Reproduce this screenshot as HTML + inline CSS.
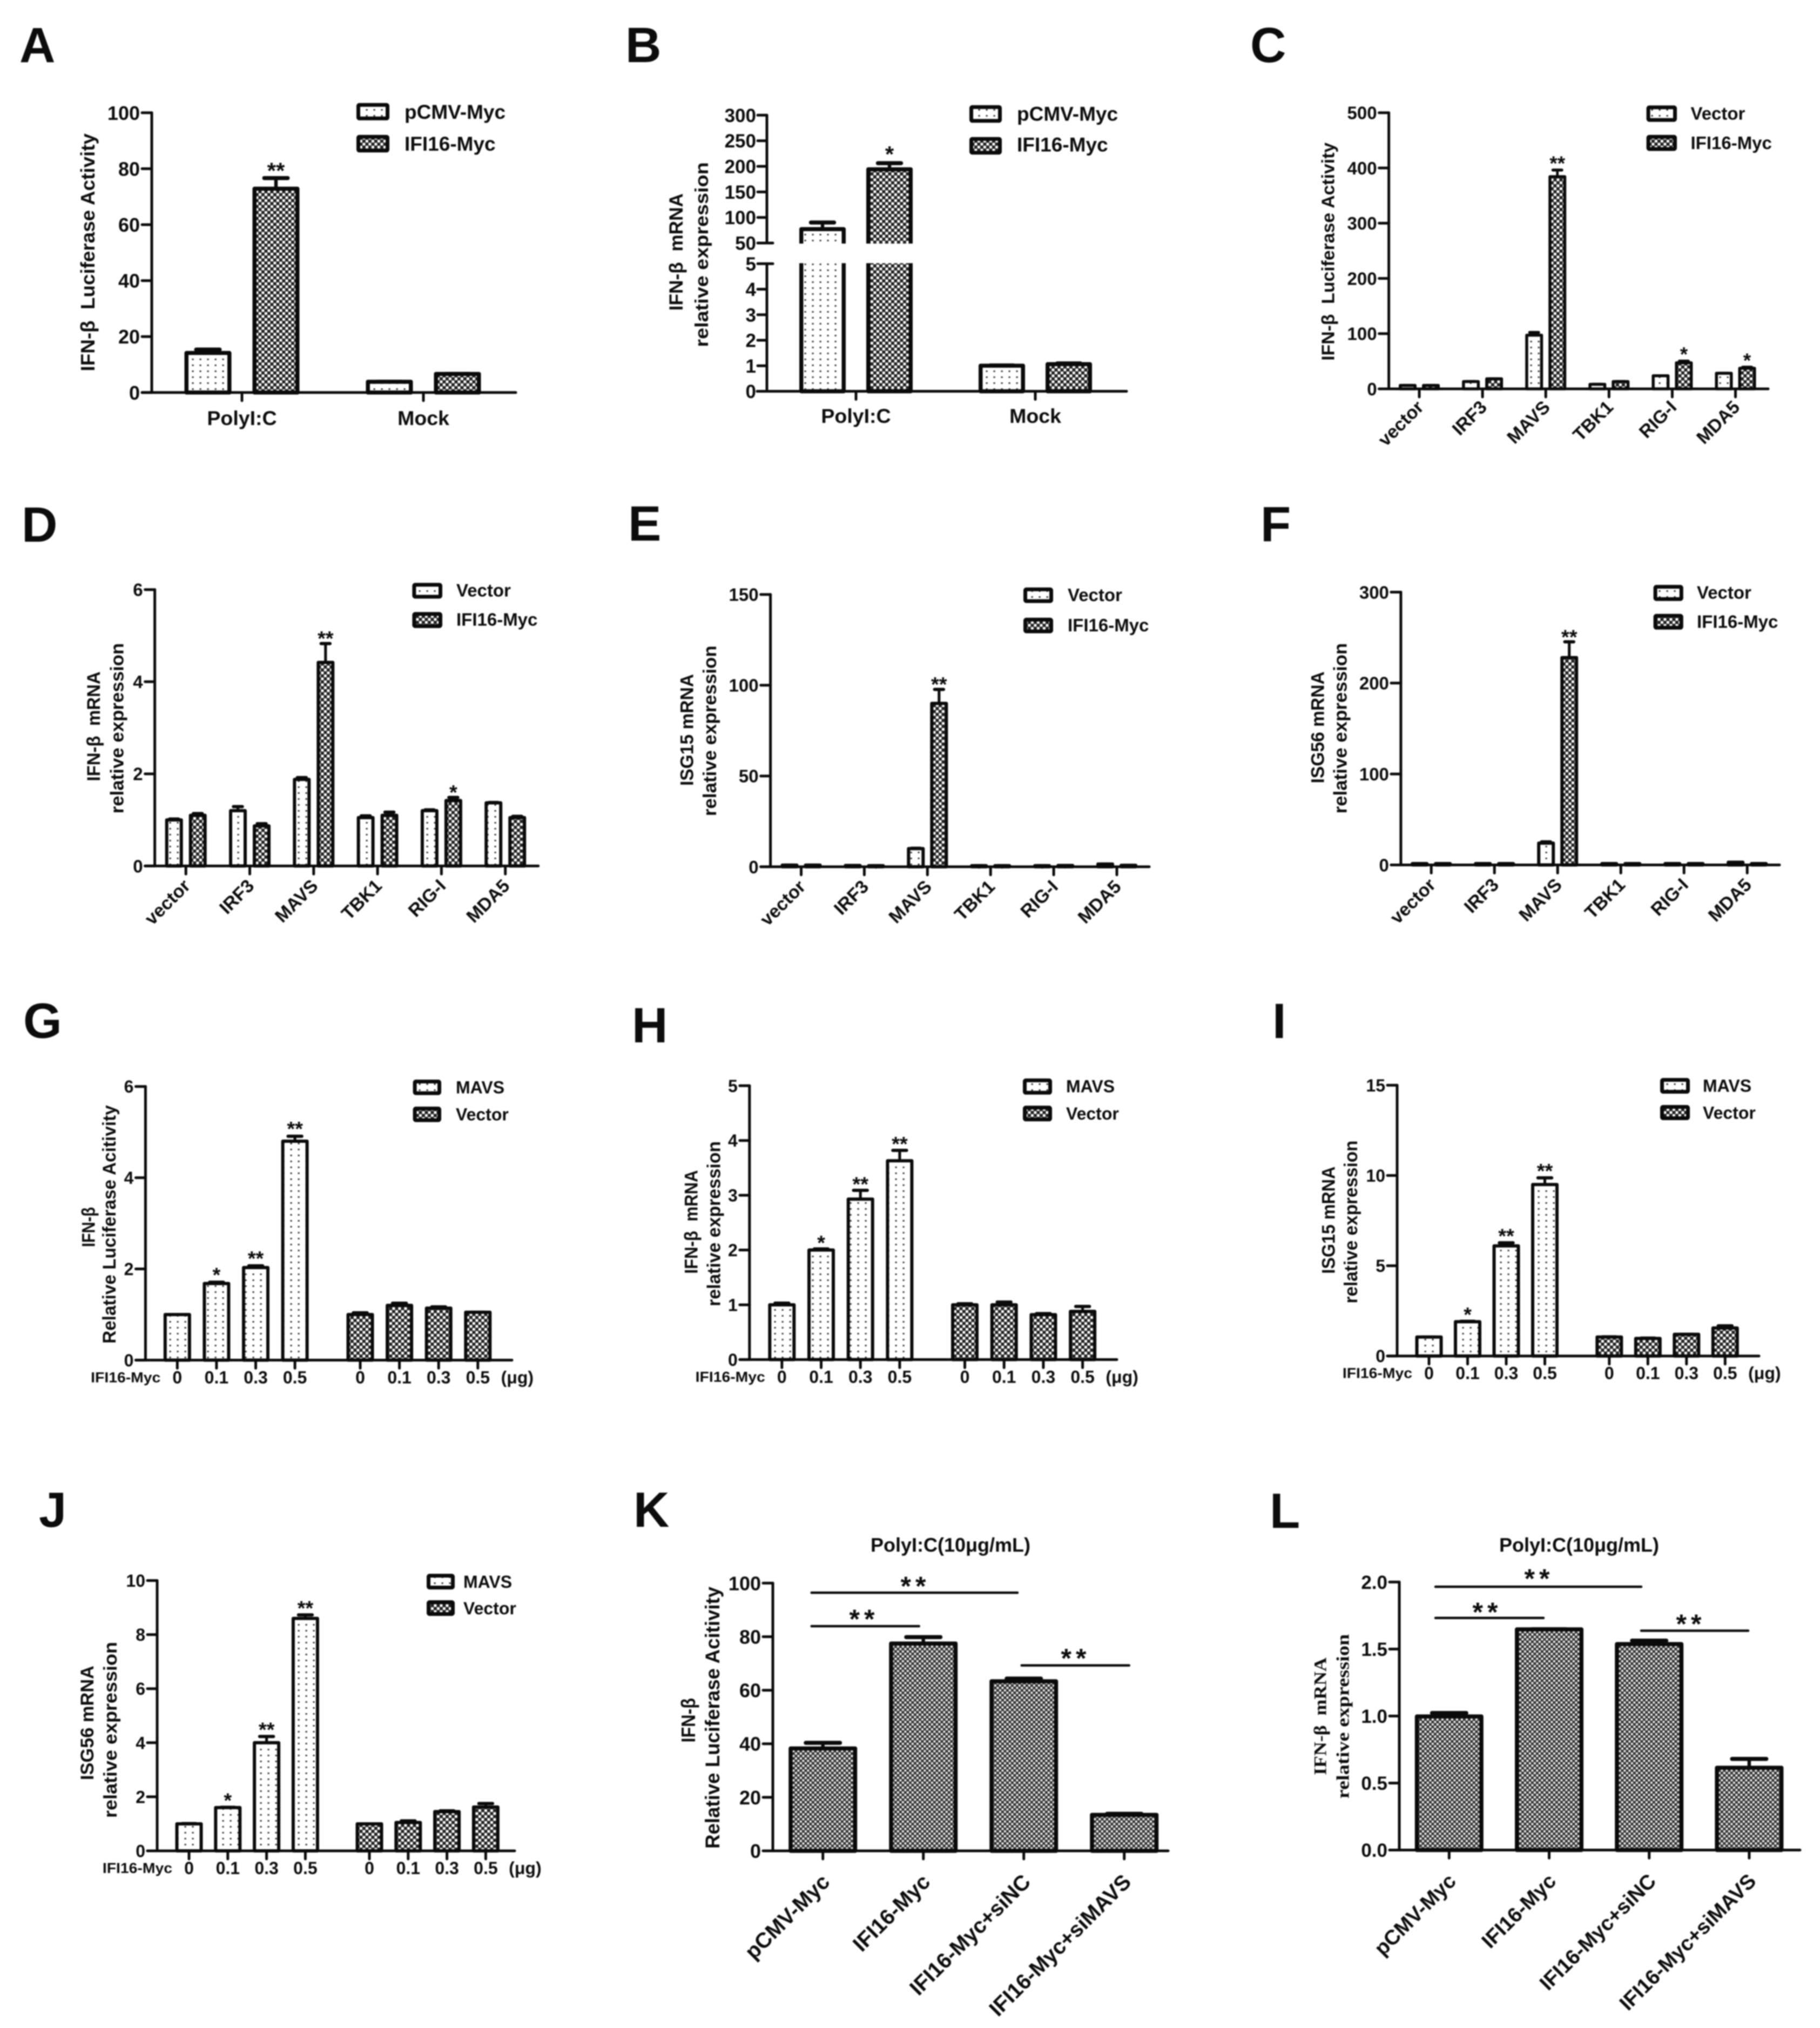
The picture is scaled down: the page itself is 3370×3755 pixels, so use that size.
<!DOCTYPE html>
<html lang="en">
<head>
<meta charset="utf-8">
<title>IFI16 and IFN-β expression figure</title>
<style>
html,body{margin:0;padding:0;background:#fff;}
#figure{display:block;width:3370px;height:3755px;filter:blur(1.1px);font-family:"Liberation Sans",sans-serif;}
#figure text{white-space:pre;fill:#0c0c0c;font-weight:bold;}
</style>
</head>
<body>
<svg id="figure" xmlns="http://www.w3.org/2000/svg" width="3370" height="3755" viewBox="0 0 3370 3755">
<defs>
<pattern id="dots" patternUnits="userSpaceOnUse" width="14" height="11"><rect width="14" height="11" fill="#fff"/><rect x="5.5" y="4" width="3.2" height="2.8" fill="#333"/></pattern>
<pattern id="dark" patternUnits="userSpaceOnUse" width="11" height="11"><rect width="11" height="11" fill="#222"/><rect x="0.4" y="0.4" width="5" height="5" fill="#fff"/><rect x="5.9" y="5.9" width="5" height="5" fill="#fff"/></pattern>
<pattern id="darkfine" patternUnits="userSpaceOnUse" width="9" height="9"><rect width="9" height="9" fill="#333"/><rect x="0.4" y="0.4" width="3.9" height="3.9" fill="#f4f4f4"/><rect x="4.9" y="4.9" width="3.9" height="3.9" fill="#f4f4f4"/></pattern>
</defs>
<rect width="3370" height="3755" fill="#fff"/>
</svg>
<script>
// ---------- Data ----------
const luciferaseCategories = ['PolyI:C', 'Mock'];
const receptorCategories = ['vector', 'IRF3', 'MAVS', 'TBK1', 'RIG-I', 'MDA5'];
const doseLabels = ['0', '0.1', '0.3', '0.5', '0', '0.1', '0.3', '0.5'];
const rescueCategories = ['pCMV-Myc', 'IFI16-Myc', 'IFI16-Myc+siNC', 'IFI16-Myc+siMAVS'];

const aTicks = [0, 20, 40, 60, 80, 100];
const aControl = [14.3, 4.0];
const aIfi16 = [73, 6.8];
const aControlErr = [1.4, 0.2];
const aIfi16Err = [4, 0.2];
const aSig = ['', '**', '', ''];

const bTicks = [0, 1, 2, 3, 4, 5, 50, 100, 150, 200, 250, 300];
const bControl = [78, 1.02];
const bIfi16 = [195, 1.08];
const bControlErr = [14, 0.03];
const bIfi16Err = [13, 0.05];
const bSig = ['', '*', '', ''];

const cTicks = [0, 100, 200, 300, 400, 500];
const cVector = [6, 13, 97, 8, 23.5, 28];
const cIfi16 = [6, 18, 384, 13, 47, 37];
const cVectorErr = [1, 1, 6, 1, 1, 0.5];
const cIfi16Err = [1, 0.5, 13, 1, 4, 3];
const cSig = ['', '', '', '', '', '**', '', '', '', '*', '', '*'];

const dTicks = [0, 2, 4, 6];
const dVector = [1.0, 1.2, 1.88, 1.05, 1.2, 1.37];
const dIfi16 = [1.1, 0.87, 4.42, 1.1, 1.42, 1.05];
const dVectorErr = [0.03, 0.1, 0.05, 0.05, 0.03, 0.02];
const dIfi16Err = [0.05, 0.06, 0.42, 0.08, 0.08, 0.04];
const dSig = ['', '', '', '', '', '**', '', '', '', '*', '', ''];

const eTicks = [0, 50, 100, 150];
const eVector = [0.9, 0.7, 10, 0.6, 0.6, 1.5];
const eIfi16 = [0.9, 0.6, 90, 0.6, 0.7, 0.8];
const eVectorErr = [0.1, 0.1, 0.5, 0.1, 0.1, 0.3];
const eIfi16Err = [0.2, 0.1, 8, 0.1, 0.1, 0.1];
const eSig = ['', '', '', '', '', '**', '', '', '', '', '', ''];

const fTicks = [0, 100, 200, 300];
const fVector = [1.5, 1.5, 24, 1.5, 1.5, 3];
const fIfi16 = [1.5, 1.5, 228, 1.5, 1.5, 1.5];
const fVectorErr = [0.2, 0.2, 2, 0.2, 0.2, 0.5];
const fIfi16Err = [0.2, 0.2, 18, 0.2, 0.2, 0.2];
const fSig = ['', '', '', '', '', '**', '', '', '', '', '', ''];

const gTicks = [0, 2, 4, 6];
const gValues = [1.0, 1.68, 2.03, 4.8, 1.0, 1.2, 1.14, 1.05];
const gErrors = [0.01, 0.04, 0.05, 0.12, 0.05, 0.06, 0.04, 0.01];
const gSig = ['', '*', '**', '**', '', '', '', ''];

const hTicks = [0, 1, 2, 3, 4, 5];
const hValues = [1.0, 2.0, 2.93, 3.63, 1.0, 1.0, 0.82, 0.88];
const hErrors = [0.04, 0.03, 0.17, 0.2, 0.03, 0.06, 0.03, 0.1];
const hSig = ['', '*', '**', '**', '', '', '', ''];

const iTicks = [0, 5, 10, 15];
const iValues = [1.05, 1.9, 6.1, 9.5, 1.05, 0.97, 1.2, 1.55];
const iErrors = [0.02, 0.05, 0.2, 0.4, 0.04, 0.05, 0.02, 0.15];
const iSig = ['', '*', '**', '**', '', '', '', ''];

const jTicks = [0, 2, 4, 6, 8, 10];
const jValues = [1.0, 1.6, 4.0, 8.6, 1.0, 1.05, 1.45, 1.62];
const jErrors = [0.03, 0.03, 0.25, 0.15, 0.02, 0.08, 0.05, 0.15];
const jSig = ['', '*', '**', '**', '', '', '', ''];

const kTicks = [0, 20, 40, 60, 80, 100];
const kValues = [38.4, 77.6, 63.5, 13.6];
const kErrors = [2.3, 2.6, 1.2, 0.6];

const lTickLabels = ['0.0', '0.5', '1.0', '1.5', '2.0'];
const lTicks = [0, 0.5, 1, 1.5, 2];
const lValues = [1.0, 1.65, 1.54, 0.617];
const lErrors = [0.03, 0.005, 0.03, 0.07];

// ---------- Low-level drawing ----------
const svg = document.getElementById('figure');
const NS = 'http://www.w3.org/2000/svg';

function shape(tag, attrs, parent) {
  const el = document.createElementNS(NS, tag);
  for (const k in attrs) el.setAttribute(k, attrs[k]);
  parent.appendChild(el);
  return el;
}
function line(parent, x1, y1, x2, y2, w) {
  return shape('line', { x1: x1, y1: y1, x2: x2, y2: y2, stroke: '#0a0a0a', 'stroke-width': w, 'stroke-linecap': 'round' }, parent);
}
function label(parent, str, x, y, o) {
  o = o || {};
  const fs = o.fs || 40, sx = o.sx || 1, rot = o.rot || 0;
  const el = document.createElementNS(NS, 'text');
  el.setAttribute('font-size', fs);
  el.setAttribute('text-anchor', o.anchor || 'start');
  if (o.family) el.setAttribute('font-family', o.family);
  if (o.len) {
    el.setAttribute('textLength', o.len);
    el.setAttribute('lengthAdjust', 'spacingAndGlyphs');
  }
  if (o.spacing) el.setAttribute('letter-spacing', o.spacing);
  el.setAttribute('transform', 'translate(' + x + ' ' + y + ') rotate(' + rot + ') scale(' + sx + ' 1)');
  el.textContent = str;
  parent.appendChild(el);
  return el;
}

// ---------- Chart components ----------
function makePanel(letter, lx, ly) {
  const g = document.createElementNS(NS, 'g');
  
  
  g.setAttribute('id', 'panel-' + letter);
  svg.appendChild(g);
  const t = label(g, letter, lx, ly, { fs: 92 });
  
  
  return g;
}
function linearY(p) {
  return v => p.y0 - (v / p.yMax) * (p.y0 - p.yTop);
}
function drawBar(g, yFor, cx, w, sw, value, err, fill, p, sig) {
  // outer stroke edge sits slightly above the nominal value, as in the source figure
  const yTopBar = yFor(value) - 3;
  if (err > 0) {
    const top = Math.min(yTopBar + sw / 2, yFor(value + err) + sw / 2 - 2);
    const stem = line(g, cx, yTopBar + sw, cx, top, sw * 0.85);
    
    
    const cap = line(g, cx - w * 0.25, top, cx + w * 0.25, top, sw);
    
    
  }
  const rect = shape('rect', { x: cx - w / 2 + sw / 2, y: yTopBar + sw / 2, width: w - sw, height: Math.max(p.y0 - yTopBar - sw / 2, 0.5), fill: 'url(#' + fill + ')', stroke: '#0a0a0a', 'stroke-width': sw, 'stroke-linejoin': 'round' }, g);
  
  
  if (sig) {
    const ref = yFor(value + err);
    const starFs = p.starFs || 38;
    const s = label(g, sig, cx, ref - p.starGap + starFs * 0.56, { fs: starFs, anchor: 'middle' });
    
    
  }
}
function drawYAxis(g, p, yFor, ticks, labels) {
  const axis = line(g, p.axisX, p.yTop, p.axisX, p.y0, 5);
  
  
  ticks.forEach((t, i) => {
    const y = yFor(t);
    const tk = line(g, p.axisX - 18, y, p.axisX, y, 5);
    
    
    const lb = label(g, labels ? labels[i] : String(t), p.axisX - 22, y + p.tickFs * 0.36, { fs: p.tickFs, anchor: 'end' });
    
    
  });
}
function drawXAxis(g, p) {
  const axis = line(g, p.axisX - 18, p.y0, p.xEnd, p.y0, 5);
  
  
}
function drawXTick(g, p, x) {
  const tk = line(g, x, p.y0, x, p.y0 + 15, 5);
  
  
}
function drawTitles(g, lines, o) {
  lines.forEach(l => {
    const t = label(g, l[0], l[1], (l[2] + l[3]) / 2, { fs: l[4] || 34, rot: -90, anchor: 'middle', len: l[3] - l[2], family: o && o.family });
    
    
  });
}
function drawLegend(g, x0, x1, rows, textX, names, fs, fills) {
  rows.forEach((r, i) => {
    const sw = 7;
    const box = shape('rect', { x: x0 + sw / 2, y: r[0] + sw / 2, width: x1 - x0 - sw, height: r[1] - r[0] - sw, rx: 2, fill: 'url(#' + fills[i] + ')', stroke: '#0a0a0a', 'stroke-width': sw }, g);
    
    
    const t = label(g, names[i], textX, r[2], { fs: fs });
    
    
  });
}
function pairedBars(g, p, yFor, ticksX, a, b, ea, eb, sigs) {
  ticksX.forEach((x, i) => {
    drawBar(g, yFor, x - p.off, p.w, p.sw, a[i], ea[i], 'dots', p, sigs && sigs[2 * i]);
    drawBar(g, yFor, x + p.off, p.w, p.sw, b[i], eb[i], 'dark', p, sigs && sigs[2 * i + 1]);
  });
}
function slantedLabels(g, p, xs, names, fs, dx, dy) {
  names.forEach((n, i) => {
    const t = label(g, n, xs[i] + dx, p.y0 + dy, { fs: fs, rot: -45, anchor: 'end' });
    
    
  });
}
function categoryPositions(x0, step, n) {
  const out = [];
  for (let i = 0; i < n; i++) out.push(x0 + i * step);
  return out;
}

// Dose panels G-J
function dosePanel(letter, lx, ly, p, ticks, values, errors, sigs) {
  const g = makePanel(letter, lx, ly);
  const yFor = linearY(p);
  const xs = values.map((_, i) => i < 4 ? p.x1 + i * p.step : p.x2 + (i - 4) * p.step);
  xs.forEach((x, i) => {
    drawBar(g, yFor, x, p.w, p.sw, values[i], errors[i], i < 4 ? 'dots' : 'dark', p, sigs[i]);
    drawXTick(g, p, x);
    const t = label(g, doseLabels[i], x, p.y0 + 43, { fs: 32, anchor: 'middle' });
    
    
  });
  const unit = label(g, '(μg)', xs[7] + 73, p.y0 + 43, { fs: 32, anchor: 'middle' });
  
  
  const row = label(g, 'IFI16-Myc', xs[0] - 31, p.y0 + 41, { fs: 27, sx: 1.05, anchor: 'end' });
  
  
  drawYAxis(g, p, yFor, ticks);
  drawXAxis(g, p);
  return g;
}

// Rescue panels K, L
function rescuePanel(letter, lx, ly, p, ticks, tickLabels, values, errors, sigLines) {
  const g = makePanel(letter, lx, ly);
  const yFor = linearY(p);
  const xs = categoryPositions(p.x1, p.step, values.length);
  xs.forEach((x, i) => {
    drawBar(g, yFor, x, p.w, p.sw, values[i], errors[i], 'darkfine', p, '');
    drawXTick(g, p, x);
  });
  drawYAxis(g, p, yFor, ticks, tickLabels);
  drawXAxis(g, p);
  slantedLabels(g, p, xs, rescueCategories, p.catFs, 15, 60);
  sigLines.forEach(s => {
    const l = line(g, s[0], s[2], s[1], s[2], 4.5);
    
    
    const t = label(g, '**', s[3], s[4] + 28, { fs: 50, anchor: 'middle', spacing: 8 });
    
    
  });
  const title = label(g, 'PolyI:C(10μg/mL)', p.titleX, p.titleY, { fs: 36, anchor: 'middle' });
  
  
  return g;
}

// ---------- Panel A ----------
(function () {
  const p = { axisX: 281, y0: 726.8, yTop: 208.8, yMax: 100, xEnd: 955, tickFs: 36, w: 87, sw: 7.5, off: 63, starGap: 21, starFs: 42 };
  const g = makePanel('A', 36, 115);
  const y = linearY(p), xs = [448, 784];
  pairedBars(g, p, y, xs, aControl, aIfi16, aControlErr, aIfi16Err, aSig);
  drawYAxis(g, p, y, aTicks);
  drawXAxis(g, p);
  xs.forEach((x, i) => {
    drawXTick(g, p, x);
    const t = label(g, luciferaseCategories[i], x, 786.8, { fs: 37.5, anchor: 'middle' });
    
    
  });
  drawTitles(g, [['IFN-β  Luciferase Activity', 175, 247, 687.5, 36]]);
  drawLegend(g, 660, 721, [[190.8, 222.8, 220], [249.7, 282.3, 279]], 749, ['pCMV-Myc', 'IFI16-Myc'], 37, ['dots', 'dark']);
})();

// ---------- Panel B (broken axis) ----------
(function () {
  const p = { axisX: 1420, y0: 724.5, yTop: 213.3, xEnd: 2086, tickFs: 35, w: 86, sw: 7.5, off: 62, starGap: 24, starFs: 42 };
  const y5 = 488.3, y50 = 450;
  const y = v => v <= 5 ? p.y0 - v / 5 * (p.y0 - y5) : y50 - (v - 50) / 250 * (y50 - p.yTop);
  const g = makePanel('B', 1158, 115);
  const xs = [1585, 1917];
  pairedBars(g, p, y, xs, bControl, bIfi16, bControlErr, bIfi16Err, bSig);
  const gap = shape('rect', { x: 1405, y: y50 + 1, width: 700, height: y5 - y50 - 2, fill: '#fff' }, g);
  
  
  const up = line(g, p.axisX, p.yTop, p.axisX, y50, 5);
  
  
  const lo = line(g, p.axisX, y5, p.axisX, p.y0, 5);
  
  
  bTicks.forEach(t => {
    const yy = y(t);
    const right = (t === 5 || t === 50) ? p.axisX + 11 : p.axisX;
    const tk = line(g, p.axisX - 17, yy, right, yy, 5);
    
    
    const lb = label(g, String(t), p.axisX - 20, yy + 12.5, { fs: p.tickFs, anchor: 'end' });
    
    
  });
  drawXAxis(g, p);
  xs.forEach((x, i) => {
    drawXTick(g, p, x);
    const t = label(g, luciferaseCategories[i], x, 783, { fs: 37.5, anchor: 'middle' });
    
    
  });
  drawTitles(g, [['IFN-β  mRNA', 1264, 358, 575.3, 35], ['relative expression', 1311, 300.3, 642.6, 34]]);
  drawLegend(g, 1795, 1855, [[194.7, 227.3, 223.4], [253.7, 286.2, 280.6]], 1883, ['pCMV-Myc', 'IFI16-Myc'], 37, ['dots', 'dark']);
})();

// ---------- Panels C, D, E, F ----------
function receptorPanel(letter, lx, ly, p, ticks, a, b, ea, eb, sigs, titles, legend) {
  const g = makePanel(letter, lx, ly);
  const y = linearY(p);
  const xs = categoryPositions(p.x1, p.step, receptorCategories.length);
  pairedBars(g, p, y, xs, a, b, ea, eb, sigs);
  drawYAxis(g, p, y, ticks);
  drawXAxis(g, p);
  xs.forEach(x => drawXTick(g, p, x));
  slantedLabels(g, p, xs, receptorCategories, 34, 10, p.catDy);
  drawTitles(g, titles);
  drawLegend(g, legend[0], legend[1], legend[2], legend[3], ['Vector', 'IFI16-Myc'], 33, ['dots', 'dark']);
}
receptorPanel('C', 2315, 115,
  { axisX: 2571.6, y0: 720, yTop: 208.8, yMax: 500, xEnd: 3274, tickFs: 33, w: 33, sw: 5.5, off: 21.5, starGap: 20, starFs: 37, x1: 2628, step: 117.1, catDy: 36 },
  cTicks, cVector, cIfi16, cVectorErr, cIfi16Err, cSig,
  [['IFN-β  Luciferase Activity', 2470.6, 263.8, 667.8, 33]],
  [3048.6, 3105, [[195.3, 225.6, 221.7], [249.7, 279.5, 276]], 3130.5]);
receptorPanel('D', 40, 1003,
  { axisX: 286.6, y0: 1603.4, yTop: 1091.7, yMax: 6, xEnd: 996.7, tickFs: 33, w: 33, sw: 6, off: 22, starGap: 17, x1: 344.2, step: 118.3, catDy: 39 },
  dTicks, dVector, dIfi16, dVectorErr, dIfi16Err, dSig,
  [['IFN-β  mRNA', 184.8, 1243.3, 1446.6], ['relative expression', 228.4, 1190.7, 1506.3]],
  [763.4, 819, [[1079.2, 1108.4, 1104.6], [1133.3, 1162.9, 1158.6]], 845]);
receptorPanel('E', 1163, 1001,
  { axisX: 1426.6, y0: 1604.9, yTop: 1100.7, yMax: 150, xEnd: 2128, tickFs: 33, w: 33, sw: 6, off: 21.5, starGap: 17, x1: 1483.5, step: 116.9, catDy: 39 },
  eTicks, eVector, eIfi16, eVectorErr, eIfi16Err, eSig,
  [['ISG15 mRNA', 1283.6, 1248, 1455], ['relative expression', 1326, 1195.4, 1511]],
  [1895, 1950, [[1087.8, 1116.5, 1113.2], [1143.8, 1172.5, 1169.1]], 1977]);
receptorPanel('F', 2334, 1002,
  { axisX: 2593.9, y0: 1601.5, yTop: 1096.4, yMax: 300, xEnd: 3295, tickFs: 33, w: 33, sw: 6, off: 21.5, starGap: 16, x1: 2650.2, step: 117, catDy: 39 },
  fTicks, fVector, fIfi16, fVectorErr, fIfi16Err, fSig,
  [['ISG56 mRNA', 2451.5, 1243.3, 1450.4], ['relative expression', 2493.3, 1190.7, 1506.3]],
  [3061.6, 3116.8, [[1083, 1112.7, 1108.4], [1136.6, 1165.8, 1162.4]], 3142]);

// ---------- Panels G, H, I, J ----------
(function () {
  const g = dosePanel('G', 43, 1921.4,
    { axisX: 269.4, y0: 2518.4, yTop: 2011.7, yMax: 6, xEnd: 948, tickFs: 32, w: 51, sw: 6, starGap: 21, x1: 328.3, x2: 667, step: 72.6 },
    gTicks, gValues, gErrors, gSig);
  drawTitles(g, [['IFN-β', 175.4, 2235, 2309], ['Relative Luciferase Acitivity', 214, 2046.4, 2487.8]]);
  drawLegend(g, 764.6, 817, [[1999, 2027.6, 2024.5], [2049, 2077.6, 2074.5]], 844, ['MAVS', 'Vector'], 32, ['dots', 'dark']);
})();
(function () {
  const g = dosePanel('H', 1170, 1930,
    { axisX: 1387.8, y0: 2517.4, yTop: 2010.3, yMax: 5, xEnd: 2068, tickFs: 32, w: 51, sw: 6, starGap: 19, x1: 1447.8, x2: 1786.5, step: 72.7 },
    hTicks, hValues, hErrors, hSig);
  drawTitles(g, [['IFN-β  mRNA', 1291.5, 2166.5, 2358.5], ['relative expression', 1333.3, 2113, 2418.8]]);
  drawLegend(g, 1894, 1948, [[1996.9, 2026.8, 2022.3], [2047.3, 2076.3, 2072.8]], 1974, ['MAVS', 'Vector'], 32, ['dots', 'dark']);
})();
(function () {
  const g = dosePanel('I', 2356, 1922,
    { axisX: 2587, y0: 2510.7, yTop: 2009.4, yMax: 15, xEnd: 3257, tickFs: 32, w: 51, sw: 6, starGap: 20, x1: 2646, x2: 2979.8, step: 71.5 },
    iTicks, iValues, iErrors, iSig);
  drawTitles(g, [['ISG15 mRNA', 2471.5, 2159.8, 2358.5], ['relative expression', 2513, 2111.6, 2413.4]]);
  drawLegend(g, 3074, 3129, [[1996, 2025, 2021.4], [2046, 2074, 2071.4]], 3153, ['MAVS', 'Vector'], 32, ['dots', 'dark']);
})();
(function () {
  const g = dosePanel('J', 72, 2827,
    { axisX: 291, y0: 3427, yTop: 2926.5, yMax: 10, xEnd: 953, tickFs: 32, w: 51, sw: 6, starGap: 20, x1: 350, x2: 684, step: 71.8 },
    jTicks, jValues, jErrors, jSig);
  drawTitles(g, [['ISG56 mRNA', 173, 3084, 3296], ['relative expression', 216, 3040, 3366]]);
  drawLegend(g, 790, 842, [[2914, 2943, 2940], [2963, 2992, 2989]], 858, ['MAVS', 'Vector'], 32, ['dots', 'dark']);
})();

// ---------- Panels K, L ----------
(function () {
  const g = rescuePanel('K', 1173, 2827,
    { axisX: 1431, y0: 3427, yTop: 2931.3, yMax: 100, xEnd: 2163, tickFs: 36, w: 127, sw: 7.5, starGap: 20, x1: 1523.7, step: 186, catFs: 40, titleX: 1760, titleY: 2873 },
    kTicks, null, kValues, kErrors,
    [[1502.7, 1884, 2949, 1695, 2926], [1502.7, 1701.7, 3011, 1600, 2987], [1891.7, 2090.7, 3083.6, 1992, 3059.5]]);
  drawTitles(g, [['IFN-β', 1287, 3144, 3226.4, 36], ['Relative Luciferase Acitivity', 1332, 2937.7, 3423, 37]]);
})();
(function () {
  const g = rescuePanel('L', 2351, 2829,
    { axisX: 2591, y0: 3425.5, yTop: 2929.3, yMax: 2, xEnd: 3333, tickFs: 35, w: 127, sw: 7.5, starGap: 20, x1: 2683.3, step: 185.2, catFs: 38.5, titleX: 2924, titleY: 2873 },
    lTicks, lTickLabels, lValues, lErrors,
    [[2658, 3039, 2938, 2850, 2911.8], [2658, 2858, 2995.8, 2754, 2974], [3039, 3237, 3019.4, 3131, 2995.8]]);
  drawTitles(g, [['IFN-β  mRNA', 2455.7, 3069, 3286.9, 33], ['relative expression', 2497.7, 3025.6, 3330.4, 33]], { family: '"Liberation Serif", serif' });
})();
</script>
</body>
</html>
